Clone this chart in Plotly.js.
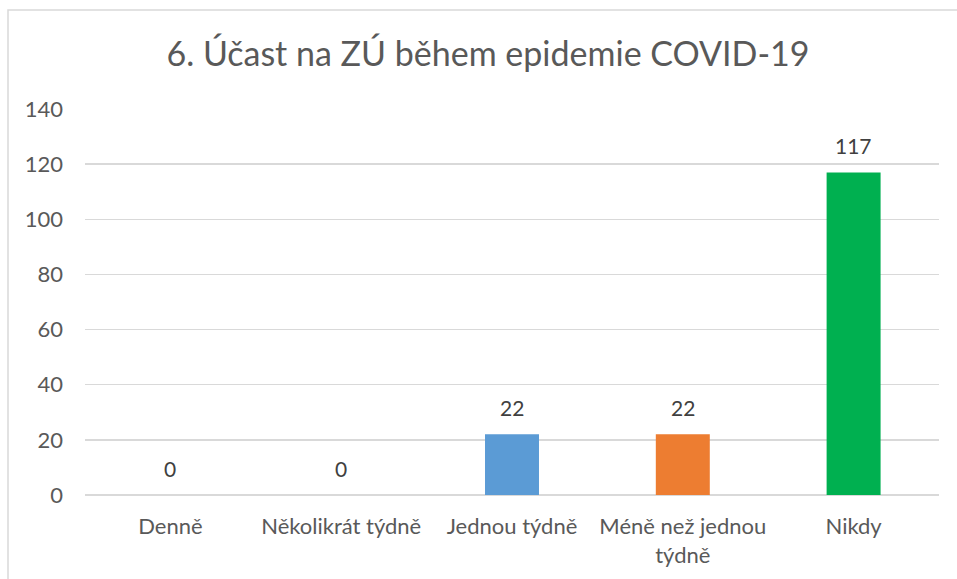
<!DOCTYPE html>
<html>
<head>
<meta charset="utf-8">
<script src="https://cdn.plot.ly/plotly-3.0.1.min.js"></script>
<style>html,body{margin:0;padding:0;background:#fff;}#chart{width:957px;height:579px;}</style>
</head>
<body>
<div id="chart"></div>
<script>
const categories = ["Denně", "Několikrát týdně", "Jednou týdně", "Méně než jednou týdně", "Nikdy"];
const tickLabels = ["Denně", "Několikrát týdně", "Jednou týdně", "Méně než jednou<br>týdně", "Nikdy"];
const values = [0, 0, 22, 22, 117];
const barColors = ["#4472C4", "#A5A5A5", "#5B9BD5", "#ED7D31", "#00B050"];
const yTicks = [0, 20, 40, 60, 80, 100, 120, 140];

const FONT = "Lato, 'Open Sans', sans-serif";

const trace = {
  type: "bar",
  x: categories,
  y: values,
  marker: { color: barColors },
  width: 0.316,
  hoverinfo: "x+y"
};

const annotations = categories.map((c, i) => ({
  x: c, y: values[i], xref: "x", yref: "y",
  text: String(values[i]), showarrow: false,
  yanchor: "bottom", yshift: 12,
  font: { family: FONT, size: 21, color: "#404040" }
}));

const layout = {
  width: 957, height: 579,
  margin: { l: 85, r: 18, t: 109, b: 84 },
  paper_bgcolor: "#ffffff", plot_bgcolor: "#ffffff",
  title: {
    text: "6. Účast na ZÚ během epidemie COVID-19",
    font: { family: FONT, size: 34, color: "#595959" },
    x: 488 / 957, xanchor: "center", xref: "container",
    y: 1 - 54 / 579, yanchor: "middle", yref: "container"
  },
  xaxis: {
    type: "category",
    tickvals: categories, ticktext: tickLabels,
    tickfont: { family: FONT, size: 22, color: "#595959" },
    showgrid: false, showline: false, zeroline: false,
    ticks: "", ticklabelstandoff: 16,
    fixedrange: true
  },
  yaxis: {
    range: [0, 140],
    tickvals: yTicks,
    tickfont: { family: FONT, size: 22, color: "#595959" },
    showgrid: true, gridcolor: "#d9d9d9", gridwidth: 1.5,
    zeroline: true, zerolinecolor: "#d9d9d9", zerolinewidth: 1.5,
    showline: false, ticks: "", ticklabelstandoff: 21,
    fixedrange: true
  },
  shapes: [{
    type: "rect", xref: "paper", yref: "paper",
    x0: (8 - 85) / 854, x1: (1010 - 85) / 854,
    y0: (495 - 620) / 386, y1: (495 - 10) / 386,
    line: { color: "#d9d9d9", width: 1.5 }, fillcolor: "rgba(0,0,0,0)",
    layer: "below"
  }],
  annotations: annotations,
  showlegend: false,
  bargap: 0.684
};

Plotly.newPlot("chart", [trace], layout, { displayModeBar: false, staticPlot: true });
</script>
</body>
</html>
